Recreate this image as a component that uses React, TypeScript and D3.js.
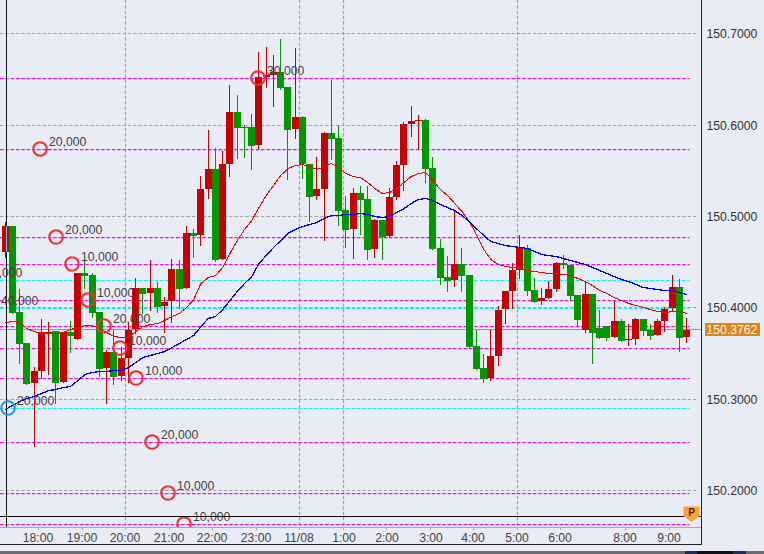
import React from 'react';
import * as d3 from 'd3';

const opens = [150.4607,150.4891,150.3950,150.3611,150.3174,150.3305,150.3721,150.3743,150.3185,150.3732,150.3655,150.4377,150.4355,150.3950,150.3338,150.3513,150.3250,150.3447,150.3764,150.4213,150.4158,150.4213,150.4016,150.4071,150.4421,150.4213,150.4815,150.4793,150.5296,150.5515,150.4530,150.5570,150.6139,150.5974,150.5974,150.5778,150.6522,150.6543,150.6576,150.6412,150.5953,150.6084,150.5570,150.5220,150.5296,150.5909,150.5854,150.5066,150.4858,150.5252,150.5187,150.4640,150.4957,150.4782,150.5209,150.5559,150.6007,150.6040,150.6051,150.5526,150.4651,150.4333,150.4300,150.4476,150.4355,150.3578,150.3338,150.3228,150.3469,150.3983,150.4180,150.4410,150.4651,150.4191,150.4071,150.4104,150.4202,150.4487,150.4465,150.4136,150.3754,150.4147,150.3775,150.3797,150.3677,150.3852,150.3644,150.3655,150.3874,150.3754,150.3699,150.3852,150.3994,150.4224,150.3677];
const highs = [150.4935,150.4891,150.4202,150.3611,150.3349,150.3874,150.3841,150.3743,150.3732,150.3852,150.4377,150.4519,150.4377,150.3950,150.3535,150.3754,150.3567,150.3841,150.4322,150.4213,150.4519,150.4279,150.4114,150.4530,150.4519,150.4891,150.4858,150.5438,150.5942,150.5745,150.5712,150.6434,150.6325,150.5996,150.6117,150.6795,150.6850,150.6762,150.6937,150.6412,150.6839,150.6095,150.5570,150.5646,150.5920,150.6489,150.5996,150.5220,150.5307,150.5329,150.5329,150.4968,150.4957,150.5307,150.5602,150.6029,150.6204,150.6106,150.6062,150.5646,150.4749,150.4563,150.5066,150.4651,150.4355,150.3754,150.3491,150.3754,150.4016,150.4180,150.4487,150.4793,150.4683,150.4322,150.4213,150.4290,150.4497,150.4574,150.4465,150.4136,150.4290,150.4147,150.3972,150.3797,150.4071,150.3874,150.3819,150.3885,150.3874,150.3819,150.3874,150.4005,150.4355,150.4311,150.3885];
const lows = [150.4552,150.3939,150.3392,150.3163,150.2484,150.3228,150.3272,150.2955,150.3185,150.3513,150.3655,150.4213,150.3896,150.3250,150.2955,150.3163,150.3206,150.3185,150.3721,150.3939,150.3972,150.3950,150.3732,150.3841,150.3994,150.4213,150.4552,150.4683,150.5198,150.4508,150.4530,150.5438,150.5635,150.5646,150.5515,150.5745,150.6412,150.6204,150.6390,150.5406,150.5854,150.5416,150.4946,150.5187,150.4738,150.5624,150.4902,150.4662,150.4541,150.4804,150.4530,150.4552,150.4530,150.4771,150.5187,150.5285,150.5876,150.5734,150.5373,150.4640,150.4257,150.4180,150.4235,150.4180,150.3567,150.3327,150.3185,150.3206,150.3371,150.3830,150.3994,150.4322,150.4136,150.4060,150.4038,150.4104,150.4180,150.4432,150.4082,150.3797,150.3732,150.3392,150.3666,150.3644,150.3677,150.3633,150.3589,150.3600,150.3699,150.3655,150.3699,150.3743,150.3961,150.3524,150.3622];
const closes = [150.4891,150.3939,150.3600,150.3163,150.3305,150.3732,150.3732,150.3174,150.3732,150.3688,150.4377,150.4344,150.3939,150.3327,150.3513,150.3239,150.3447,150.3754,150.4213,150.4147,150.4213,150.4005,150.4060,150.4421,150.4202,150.4815,150.4782,150.5296,150.5515,150.4519,150.5570,150.6139,150.5964,150.5964,150.5767,150.6522,150.6543,150.6576,150.6401,150.5942,150.6084,150.5570,150.5209,150.5296,150.5909,150.5843,150.5055,150.4848,150.5252,150.5176,150.4629,150.4957,150.4771,150.5209,150.5559,150.6007,150.6040,150.6051,150.5515,150.4640,150.4322,150.4290,150.4476,150.4344,150.3567,150.3327,150.3217,150.3469,150.3972,150.4180,150.4410,150.4651,150.4180,150.4060,150.4104,150.4202,150.4487,150.4465,150.4125,150.3863,150.4147,150.3721,150.3666,150.3666,150.3852,150.3633,150.3655,150.3874,150.3743,150.3688,150.3852,150.3983,150.4224,150.3666,150.3754];

const maFast = [150.3841,150.3852,150.3841,150.3775,150.3743,150.3721,150.3721,150.3721,150.3732,150.3764,150.3786,150.3808,150.3808,150.3775,150.3732,150.3688,150.3677,150.3677,150.3743,150.3797,150.3819,150.3830,150.3863,150.3907,150.3939,150.4005,150.4093,150.4268,150.4333,150.4355,150.4443,150.4596,150.4738,150.4858,150.4957,150.5099,150.5231,150.5340,150.5449,150.5526,150.5559,150.5570,150.5548,150.5515,150.5548,150.5581,150.5537,150.5471,150.5438,150.5427,150.5373,150.5307,150.5252,150.5263,150.5307,150.5373,150.5438,150.5471,150.5482,150.5395,150.5296,150.5231,150.5143,150.5055,150.4946,150.4804,150.4640,150.4530,150.4476,150.4454,150.4443,150.4432,150.4410,150.4399,150.4388,150.4377,150.4377,150.4366,150.4355,150.4322,150.4290,150.4246,150.4191,150.4158,150.4114,150.4082,150.4049,150.4027,150.4005,150.3983,150.3961,150.3950,150.3961,150.3961,150.3939];
const maSlow = [150.2889,150.2933,150.2977,150.3009,150.3031,150.3064,150.3097,150.3108,150.3130,150.3141,150.3206,150.3272,150.3294,150.3305,150.3305,150.3316,150.3316,150.3349,150.3403,150.3458,150.3480,150.3502,150.3524,150.3567,150.3611,150.3655,150.3699,150.3797,150.3885,150.3907,150.3983,150.4082,150.4180,150.4268,150.4344,150.4487,150.4574,150.4662,150.4738,150.4815,150.4858,150.4891,150.4913,150.4935,150.4979,150.5012,150.5012,150.5023,150.5023,150.5034,150.5023,150.5001,150.4990,150.5001,150.5044,150.5088,150.5143,150.5187,150.5198,150.5176,150.5132,150.5099,150.5066,150.5012,150.4946,150.4869,150.4793,150.4727,150.4705,150.4683,150.4672,150.4662,150.4651,150.4618,150.4585,150.4574,150.4563,150.4541,150.4519,150.4497,150.4476,150.4443,150.4410,150.4377,150.4344,150.4311,150.4290,150.4257,150.4224,150.4213,150.4202,150.4191,150.4191,150.4169,150.4147];

const priceTicks = [150.7, 150.6, 150.5, 150.4, 150.3, 150.2];
const timeLabels = ['18:00','19:00','20:00','21:00','22:00','23:00','11/08','1:00','2:00','3:00','4:00','5:00','6:00','8:00','9:00'];
const timeSlots = [4.6,10.6,16.6,22.6,28.6,34.6,40.6,46.6,52.6,58.6,64.6,70.6,76.6,85.6,91.6];
const gridSlots = [16.6, 40.6, 46.6, 70.6];

const magentaLevels = [150.6511,150.5734,150.4771,150.4476,150.4082,150.3797,150.3556,150.3228,150.2528,150.1970,150.1631];
const cyanLevels = [150.43,150.3994,150.29];
const lastPrice = 150.3762;

const pinSlots = [-3.96,-1.75,0.46,4.87,7.08,9.28,11.49,13.7,15.9,18.11,20.32,22.52,24.73,34.94];
const pinPrices = [150.4300,150.3994,150.29,150.5734,150.4771,150.4476,150.4082,150.3797,150.3556,150.3228,150.2528,150.197,150.1631,150.6511];
const pinLabels = ['20,000','40,000','20,000','20,000','20,000','10,000','10,000','20,000','10,000','10,000','20,000','10,000','10,000','30,000'];

const W = 764;
const H = 554;
const plotRight = 701;
const plotBottom = 527;

const font = '"Liberation Sans", Arial, sans-serif';

export default function App() {
  const x = d3.scaleLinear().domain([0, 94]).range([4.7, 686.2]);
  const y = d3.scaleLinear().domain([150.2, 150.7]).range([490.3, 33.3]);
  const px = (i: number) => Math.round(x(i));
  const py = (v: number) => Math.round(y(v));

  const maLine = d3.line<number>().x((d, i) => x(i) + 0.5).y((d) => y(d) + 0.5);
  const fmt = d3.format('.4f');

  return (
    <svg width={W} height={H} style={{ position: 'fixed', left: 0, top: 0, display: 'block', background: '#e9ecf4' }}>
      <defs>
        <clipPath id="plot">
          <rect x={0} y={0} width={plotRight} height={plotBottom} />
        </clipPath>
      </defs>

      <g clipPath="url(#plot)">
        {priceTicks.map((t) => (
          <line key={t} x1={0} x2={698} y1={py(t) + 0.5} y2={py(t) + 0.5} stroke="#a4a4a4" strokeWidth={1.2} strokeDasharray="3.33 2" />
        ))}
        {gridSlots.map((s) => (
          <line key={s} x1={px(s) + 0.5} x2={px(s) + 0.5} y1={0} y2={plotBottom} stroke="#a4a4a4" strokeWidth={1.2} strokeDasharray="3.33 2" />
        ))}
        <line x1={0} x2={plotRight} y1={py(lastPrice) + 0.5} y2={py(lastPrice) + 0.5} stroke="#c9923f" strokeWidth={1.2} />
        {magentaLevels.map((l) => (
          <line key={l} x1={0} x2={689} y1={py(l) + 0.5} y2={py(l) + 0.5} stroke="#ff00ff" strokeWidth={1.25} strokeDasharray="3.33 2" />
        ))}
        {cyanLevels.map((l) => (
          <line key={l} x1={0} x2={689} y1={py(l) + 0.5} y2={py(l) + 0.5} stroke="#00ffff" strokeWidth={1.25} strokeDasharray="3.33 2" />
        ))}

        <g shapeRendering="crispEdges">
          {opens.map((o, i) => {
            const c = closes[i];
            const color = c >= o ? '#cc0000' : '#009900';
            const top = py(Math.max(o, c));
            const bottom = py(Math.min(o, c));
            return (
              <g key={i}>
                <rect x={px(i)} y={py(highs[i])} width={1} height={py(lows[i]) - py(highs[i]) + 1} fill={color} />
                <rect x={px(i) - 3} y={top} width={7} height={Math.max(bottom - top, 1)} fill={color} />
              </g>
            );
          })}

          <line x1={6.5} x2={6.5} y1={0} y2={plotBottom} stroke="#111" />
          <line x1={6.5} x2={6.5} y1={py(closes[0])} y2={py(opens[0])} stroke="#33ddee" />
        </g>

        <path d={maLine(maFast) ?? ''} fill="none" stroke="#ff0000" strokeWidth={1} shapeRendering="crispEdges" />
        <path d={maLine(maSlow) ?? ''} fill="none" stroke="#0000ff" strokeWidth={1.3} shapeRendering="crispEdges" />

        {pinSlots.map((s, i) => {
          const isBlue = i === 2;
          return (
            <g key={i}>
              <circle cx={x(s)} cy={y(pinPrices[i])} r={6.8} fill="none" stroke={isBlue ? '#2f8fdc' : '#ff2a2a'} strokeWidth={2} />
              <text x={x(s) + 9} y={y(pinPrices[i]) - 3.2} fontFamily={font} fontSize={12.2} fill="#444">
                {pinLabels[i]}
              </text>
            </g>
          );
        })}
      </g>

      <g shapeRendering="crispEdges">
        <line x1={0} x2={plotRight} y1={516.5} y2={516.5} stroke="#111" />
        <line x1={0} x2={plotRight} y1={527.5} y2={527.5} stroke="#aaa" />
        <line x1={plotRight + 0.5} x2={plotRight + 0.5} y1={0} y2={545} stroke="#222" />
        <line x1={0} x2={plotRight + 1} y1={544.5} y2={544.5} stroke="#222" />
        {timeSlots.map((s) => (
          <line key={s} x1={px(s) + 0.5} x2={px(s) + 0.5} y1={527} y2={530} stroke="#aaa" />
        ))}
      </g>

      {timeLabels.map((t, i) => (
        <text key={t} x={px(timeSlots[i]) + (t === '1:00' || t === '2:00' || t === '3:00' ? 1 : 0)} y={542} textAnchor="middle" fontFamily={font} fontSize={12.2} fill="#444">
          {t}
        </text>
      ))}

      {priceTicks.map((t) => (
        <text key={t} x={706.5} y={py(t) + 4.5} fontFamily={font} fontSize={12.2} fill="#333">
          {fmt(t)}
        </text>
      ))}

      <rect x={705} y={py(lastPrice) - 6} width={55} height={13} fill="#d68a1c" shapeRendering="crispEdges" />
      <text x={706.5} y={py(lastPrice) + 4.5} fontFamily={font} fontSize={12.2} fill="#f4f4f4">
        {fmt(lastPrice)}
      </text>

      <g>
        <path d="M683.5,506.5 H699.5 V516 L691.5,522 L683.5,516 Z" fill="#ffa236" />
        <text x={691.5} y={516} textAnchor="middle" fontFamily={font} fontSize={10} fontWeight="bold" fill="#4a2c00">
          P
        </text>
      </g>

      <g shapeRendering="crispEdges">
        <rect x={0} y={551} width={W} height={3} fill="#6b6b6b" />
        <rect x={685} y={551} width={12} height={3} fill="#16305a" />
        <rect x={697} y={551} width={36} height={3} fill="#111" />
        <rect x={733} y={551} width={13} height={3} fill="#16305a" />
      </g>
    </svg>
  );
}
